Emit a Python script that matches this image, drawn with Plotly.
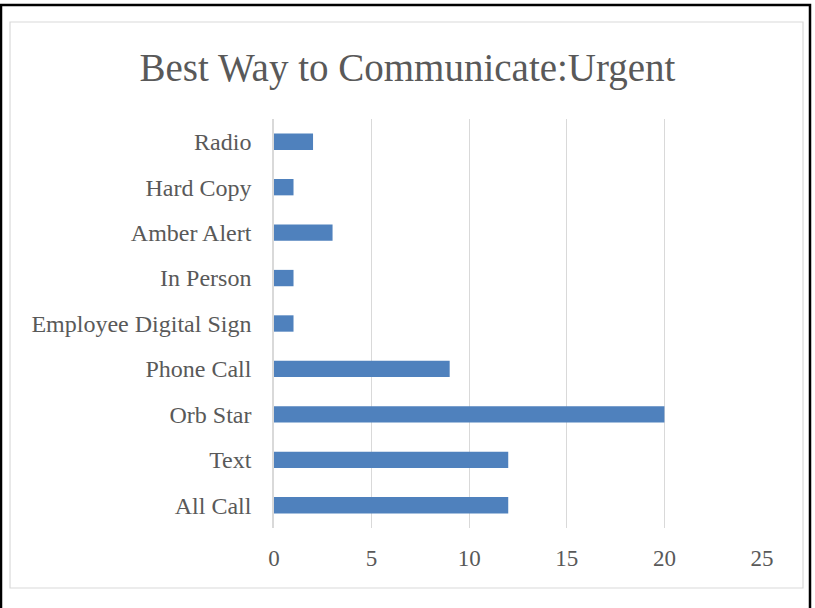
import plotly.graph_objects as go

categories = ["All Call", "Text", "Orb Star", "Phone Call", "Employee Digital Sign",
              "In Person", "Amber Alert", "Hard Copy", "Radio"]
values = [12, 12, 20, 9, 1, 1, 3, 1, 2]
x_ticks = [0, 5, 10, 15, 20, 25]

W, H = 815, 608
L, R, T, B = 274, 53, 119, 80
pw, ph = W - L - R, H - T - B

def px_x(p):
    return (p - L) / pw

def px_y(p):
    return 1 - (p - T) / ph

FONT = "Liberation Serif"
TXT = "#595959"

fig = go.Figure(go.Bar(
    y=categories, x=values, orientation="h",
    marker=dict(color="#4F81BD", line=dict(width=0)),
    width=0.36,
))

shapes = [
    # outer black frame
    dict(type="rect", xref="paper", yref="paper",
         x0=px_x(1), x1=px_x(810), y0=px_y(620), y1=px_y(5),
         line=dict(color="black", width=2.5), layer="above"),
    # inner chart-area border
    dict(type="rect", xref="paper", yref="paper",
         x0=px_x(10), x1=px_x(803), y0=px_y(588), y1=px_y(22),
         line=dict(color="#D9D9D9", width=1.2), layer="below"),
]

fig.update_layout(
    width=W, height=H,
    margin=dict(l=L, r=R, t=T, b=B),
    paper_bgcolor="white", plot_bgcolor="white",
    showlegend=False,
    shapes=shapes,
    title=dict(text="Best Way to Communicate:Urgent", x=0.5, xanchor="center",
               y=1 - 67 / H, yanchor="middle", yref="container",
               font=dict(family=FONT, size=39, color=TXT)),
    xaxis=dict(range=[0, 25], tickvals=x_ticks, showgrid=True,
               gridcolor="#D9D9D9", gridwidth=1, zeroline=False,
               showline=False, ticks="", ticklabelstandoff=14,
               tickfont=dict(family=FONT, size=23, color=TXT)),
    yaxis=dict(categoryorder="array", categoryarray=categories,
               showline=True, linecolor="#D9D9D9", linewidth=1.5,
               showgrid=False, ticks="", ticklabelstandoff=16,
               tickfont=dict(family=FONT, size=24, color=TXT)),
)

fig.write_html("out.html")
